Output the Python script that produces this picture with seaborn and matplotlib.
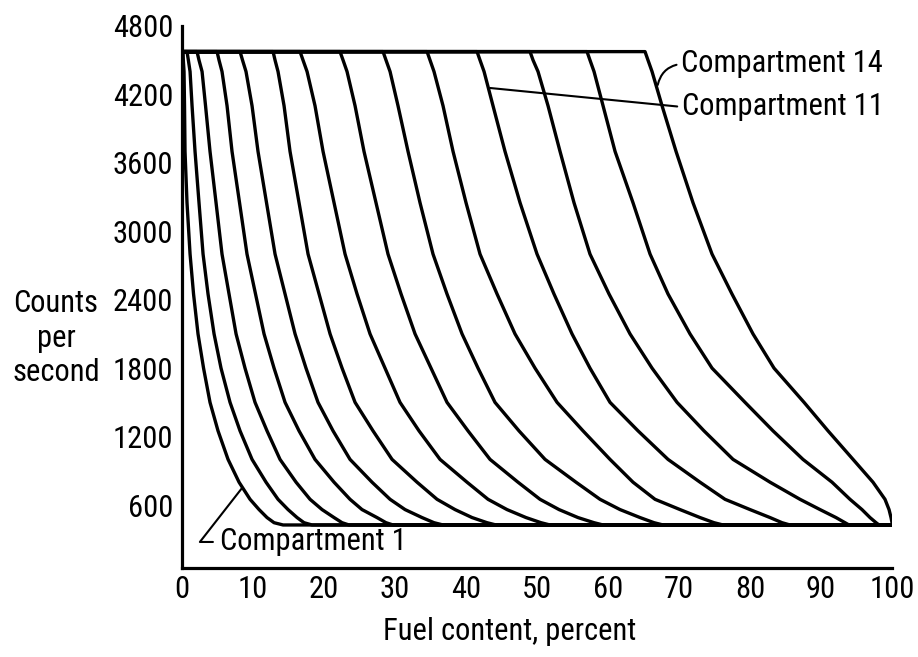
import matplotlib
matplotlib.use("Agg")
import os
import matplotlib.pyplot as plt
import seaborn as sns
import pandas as pd
from matplotlib import font_manager
from matplotlib.font_manager import FontProperties

# ---------------- data ----------------
X_TICKS = [0, 10, 20, 30, 40, 50, 60, 70, 80, 90, 100]
Y_TICKS = [600, 1200, 1800, 2400, 3000, 3600, 4200, 4800]
PLATEAU = 4575          # saturated counts (top line)
FLOOR = 425             # background counts (bottom line)
Y_LEVELS = [4575, 4500, 4400, 4100, 3700, 3250, 2800, 2450, 2100, 1800,
            1500, 1250, 1000, 800, 650, 560, 490, 445, 425]

comp_01 = [0.14, 0.18, 0.28, 0.35, 0.42, 0.70, 1.13, 1.62, 2.25, 3.03,
           3.94, 5.07, 6.48, 8.03, 9.58, 10.85, 11.97, 12.96, 14.23]
comp_02 = [0.70, 0.89, 1.13, 1.41, 1.83, 2.39, 2.96, 3.66, 4.51, 5.49,
           6.76, 8.17, 9.86, 11.83, 13.52, 14.93, 16.20, 17.18, 18.31]
comp_03 = [2.11, 2.39, 2.82, 3.31, 3.94, 4.79, 5.63, 6.62, 7.61, 8.87,
           10.28, 11.97, 13.80, 16.06, 18.03, 19.72, 21.41, 22.54, 23.52]
comp_04 = [4.93, 5.21, 5.63, 6.34, 7.04, 8.10, 9.15, 10.35, 11.55, 12.96,
           14.51, 16.48, 18.73, 21.41, 23.66, 25.35, 27.46, 28.73, 29.72]
comp_05 = [8.17, 8.52, 9.01, 9.86, 10.70, 11.90, 13.10, 14.51, 15.92, 17.46,
           19.15, 21.27, 23.66, 26.76, 29.30, 31.41, 33.80, 35.49, 36.76]
comp_06 = [12.82, 13.10, 13.52, 14.37, 15.21, 16.48, 17.75, 19.30, 20.85, 22.54,
           24.37, 26.90, 29.58, 33.10, 35.92, 38.45, 40.85, 42.96, 44.23]
comp_07 = [16.62, 17.04, 17.61, 18.73, 19.86, 21.41, 22.96, 24.65, 26.48, 28.59,
           30.70, 33.38, 36.34, 40.14, 43.10, 45.77, 48.45, 50.56, 51.83]
comp_08 = [22.25, 22.68, 23.24, 24.37, 25.63, 27.32, 29.01, 30.85, 32.82, 35.07,
           37.32, 40.28, 43.38, 47.32, 50.42, 53.10, 55.77, 58.03, 59.30]
comp_09 = [28.31, 28.73, 29.30, 30.42, 31.83, 33.52, 35.35, 37.32, 39.44, 41.69,
           44.08, 47.46, 51.13, 55.49, 58.87, 61.69, 64.51, 66.48, 67.75]
comp_10 = [34.51, 34.93, 35.49, 36.76, 38.17, 40.00, 41.97, 44.37, 46.90, 49.72,
           52.82, 56.48, 60.28, 63.52, 66.62, 70.14, 72.96, 74.93, 76.20]
comp_11 = [41.55, 41.97, 42.54, 43.80, 45.49, 47.61, 50.00, 52.39, 54.93, 57.46,
           60.28, 64.23, 68.45, 72.96, 76.48, 80.00, 82.82, 84.51, 85.63]
comp_12 = [49.01, 49.44, 50.14, 51.55, 53.24, 55.21, 57.46, 60.14, 63.10, 66.20,
           69.72, 73.52, 77.61, 82.82, 87.04, 89.86, 92.11, 93.38, 93.94]
comp_13 = [57.04, 57.46, 58.03, 59.30, 60.99, 63.52, 65.92, 68.45, 71.55, 74.65,
           79.30, 83.24, 87.46, 91.55, 94.08, 95.77, 96.90, 97.75, 98.17]
comp_14 = [65.21, 65.63, 66.20, 67.61, 69.58, 71.97, 74.65, 77.46, 80.42, 83.38,
           87.61, 90.99, 94.51, 97.32, 99.01, 99.58, 99.86, 100.0, 100.0]

COMPARTMENTS = [comp_01, comp_02, comp_03, comp_04, comp_05, comp_06, comp_07,
                comp_08, comp_09, comp_10, comp_11, comp_12, comp_13, comp_14]

# ---------------- build long-form table ----------------
rows = []
for i, xs in enumerate(COMPARTMENTS, start=1):
    order = 0
    rows.append((i, order, 0.0, PLATEAU)); order += 1
    for x, y in zip(xs, Y_LEVELS):
        rows.append((i, order, x, y)); order += 1
    rows.append((i, order, 100.0, FLOOR))
df = pd.DataFrame(rows, columns=["compartment", "order", "fuel", "counts"])

# ---------------- style ----------------
sns.set_style("white")
plt.rcParams["font.family"] = ["DejaVu Sans"]
for k in ["text.color", "axes.labelcolor", "xtick.color", "ytick.color"]:
    plt.rcParams[k] = "black"

FS = 22


def pick_condensed():
    prefs = ["LiberationSansNarrow-Regular", "RobotoCondensed-Regular",
             "DejaVuSansCondensed.ttf", "OpenSans_Condensed-Regular",
             "OpenSansCondensed", "NotoSans-Condensed", "Roboto_Condensed"]
    files = [f.fname for f in font_manager.fontManager.ttflist]
    extra = []
    for root in ["/usr/share/fonts", "/usr/local/share/fonts",
                 os.path.expanduser("~/.fonts")]:
        if os.path.isdir(root):
            for dp, _, fns in os.walk(root):
                for fn in fns:
                    if fn.lower().endswith((".ttf", ".otf")):
                        extra.append(os.path.join(dp, fn))
    allf = list(dict.fromkeys(files + extra))
    for p in prefs:
        for f in allf:
            if p.lower() in os.path.basename(f).lower():
                return f
    for f in allf:
        b = os.path.basename(f).lower()
        if ("condensed" in b or "narrow" in b) and not any(
                w in b for w in ["bold", "italic", "oblique", "light",
                                 "thin", "black", "semi", "medium", "extra"]):
            return f
    return None


cond = pick_condensed()
if cond:
    FP = FontProperties(fname=cond, size=FS)
else:
    FP = FontProperties(family="DejaVu Sans", size=FS - 4)

fig = plt.figure(figsize=(9.18, 6.57), dpi=100)
ax = fig.add_axes([0.1983, 0.1355, 0.7734, 0.8250])

sns.lineplot(data=df, x="fuel", y="counts", units="compartment",
             estimator=None, sort=False, color="black", lw=2.4,
             legend=False, ax=ax)

ax.set_xlim(0, 100)
ax.set_ylim(48, 4800)
for s in ["top", "right"]:
    ax.spines[s].set_visible(False)
for s in ["left", "bottom"]:
    ax.spines[s].set_linewidth(2.3)
    ax.spines[s].set_color("black")

ax.set_xticks(X_TICKS)
ax.set_xticklabels([str(v) for v in X_TICKS], fontproperties=FP)
ax.set_yticks(Y_TICKS)
ax.set_yticklabels([str(v) for v in Y_TICKS], fontproperties=FP)
ax.tick_params(axis="both", direction="in", length=12.5, width=1.6,
               colors="black")
ax.tick_params(axis="x", pad=5)
ax.tick_params(axis="y", pad=6.5)

ax.set_xlabel("Fuel content, percent", fontproperties=FP)
ax.xaxis.set_label_coords(0.462, -0.118)
ax.xaxis.label.set_va("center")
ax.set_ylabel("Counts\nper\nsecond", fontproperties=FP, rotation=0,
              ha="center", va="center", linespacing=1.25)
ax.yaxis.set_label_coords(-0.1775, 0.424)

# ---------------- annotations ----------------
ax.annotate("Compartment 14", xy=(67.0, 4283), xytext=(70.3, 4467),
            fontproperties=FP, ha="left", va="center",
            arrowprops=dict(arrowstyle="-", lw=1.5, color="black",
                            connectionstyle="arc3,rad=0.35",
                            relpos=(0, 0.5), shrinkA=1, shrinkB=0))
ax.annotate("Compartment 11", xy=(43.4, 4256), xytext=(70.4, 4090),
            fontproperties=FP, ha="left", va="center",
            arrowprops=dict(arrowstyle="-", lw=1.5, color="black",
                            relpos=(0, 0.5), shrinkA=1, shrinkB=0))
ax.annotate("Compartment 1", xy=(8.45, 749), xytext=(5.4, 276),
            fontproperties=FP, ha="left", va="center",
            arrowprops=dict(arrowstyle="-", lw=1.5, color="black",
                            connectionstyle="angle,angleA=0,angleB=52,rad=0",
                            relpos=(0, 0.5), shrinkA=3, shrinkB=0))

fig.savefig("out.png", dpi=100)
